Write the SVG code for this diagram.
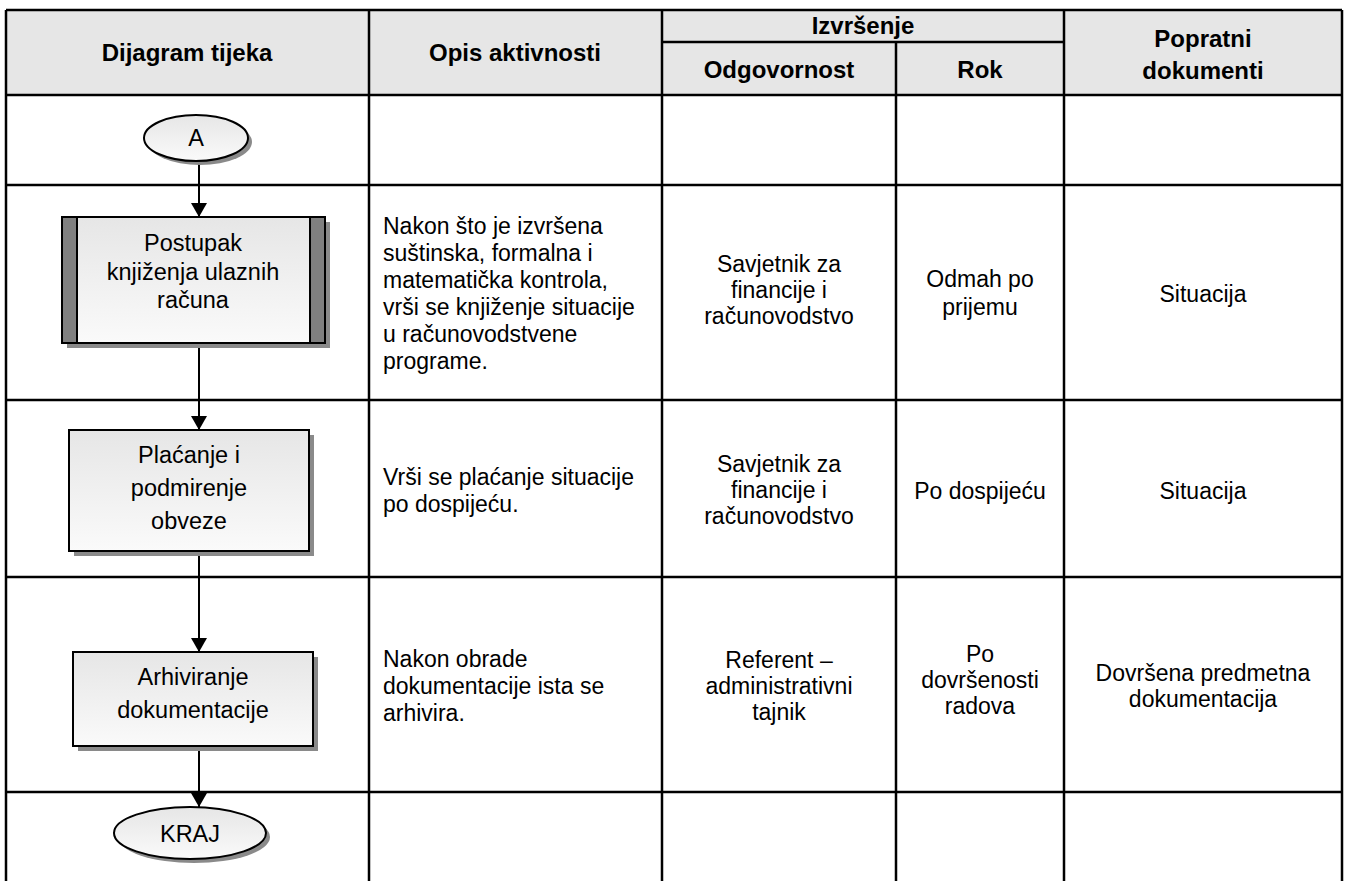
<svg xmlns="http://www.w3.org/2000/svg" width="1347" height="881" viewBox="0 0 1347 881">
<style>
.grid{stroke:#000;stroke-width:2.5;fill:none}
.hd{font-family:"Liberation Sans",Arial,sans-serif;font-weight:bold;font-size:24px;fill:#000;text-anchor:middle}
.tx{font-family:"Liberation Sans",Arial,sans-serif;font-size:23px;fill:#000}
.nt{font-family:"Liberation Sans",Arial,sans-serif;font-size:23.5px;fill:#000;text-anchor:middle}
.c{text-anchor:middle}
.nd{stroke:#000;stroke-width:2;fill:url(#g)}
.sh{fill:#8a8a8a}
.bar{fill:#808080;stroke:#000;stroke-width:2}
.cn{stroke:#000;stroke-width:2;fill:none;marker-end:url(#ah)}
</style>
<defs>
<linearGradient id="g" x1="0" y1="0" x2="0" y2="1">
<stop offset="0" stop-color="#e6e6e6"/>
<stop offset="1" stop-color="#fafafa"/>
</linearGradient>
<marker id="ah" viewBox="0 0 14 16" refX="14" refY="8" markerWidth="14" markerHeight="16" markerUnits="userSpaceOnUse" orient="auto">
<path d="M0,0 L14,8 L0,16 Z" fill="#000"/>
</marker>
</defs>
<rect width="1347" height="881" fill="#fff"/>
<g id="table">
<rect x="6" y="10" width="1336" height="85" fill="#e6e6e6"/>
<path class="grid" d="M6,10 H1342 M662,42 H1064 M6,95 H1342 M6,185 H1342 M6,400 H1342 M6,577 H1342 M6,792 H1342 M6,10 V881 M369,10 V881 M662,10 V881 M896,42 V881 M1064,10 V881 M1342,10 V881"/>
<text class="hd" x="187" y="61">Dijagram tijeka</text>
<text class="hd" x="515" y="61">Opis aktivnosti</text>
<text class="hd" x="863" y="34">Izvršenje</text>
<text class="hd" x="779" y="78">Odgovornost</text>
<text class="hd" x="980" y="78">Rok</text>
<text class="hd" x="1203" y="47">Popratni</text>
<text class="hd" x="1203" y="79">dokumenti</text>
</g>
<g id="row-text">
<text class="tx" x="383" y="234">Nakon što je izvršena</text>
<text class="tx" x="383" y="261">suštinska, formalna i</text>
<text class="tx" x="383" y="288">matematička kontrola,</text>
<text class="tx" x="383" y="315">vrši se knjiženje situacije</text>
<text class="tx" x="383" y="342">u računovodstvene</text>
<text class="tx" x="383" y="369">programe.</text>
<text class="tx c" x="779" y="272">Savjetnik za</text>
<text class="tx c" x="779" y="298">financije i</text>
<text class="tx c" x="779" y="324">računovodstvo</text>
<text class="tx c" x="980" y="287">Odmah po</text>
<text class="tx c" x="980" y="315">prijemu</text>
<text class="tx c" x="1203" y="302">Situacija</text>
<text class="tx" x="383" y="485">Vrši se plaćanje situacije</text>
<text class="tx" x="383" y="512">po dospijeću.</text>
<text class="tx c" x="779" y="472">Savjetnik za</text>
<text class="tx c" x="779" y="498">financije i</text>
<text class="tx c" x="779" y="524">računovodstvo</text>
<text class="tx c" x="980" y="499">Po dospijeću</text>
<text class="tx c" x="1203" y="499">Situacija</text>
<text class="tx" x="383" y="667">Nakon obrade</text>
<text class="tx" x="383" y="694">dokumentacije ista se</text>
<text class="tx" x="383" y="721">arhivira.</text>
<text class="tx c" x="779" y="668">Referent –</text>
<text class="tx c" x="779" y="694">administrativni</text>
<text class="tx c" x="779" y="720">tajnik</text>
<text class="tx c" x="980" y="662">Po</text>
<text class="tx c" x="980" y="688">dovršenosti</text>
<text class="tx c" x="980" y="714">radova</text>
<text class="tx c" x="1203" y="681">Dovršena predmetna</text>
<text class="tx c" x="1203" y="707">dokumentacija</text>
</g>
<g id="connectors">
<line class="cn" x1="199" y1="161" x2="199" y2="217"/>
<line class="cn" x1="199" y1="343" x2="199" y2="430"/>
<line class="cn" x1="199" y1="551" x2="199" y2="652"/>
<line class="cn" x1="199" y1="746" x2="199" y2="807"/>
</g>
<g id="node-A">
<ellipse class="sh" cx="200" cy="142" rx="52" ry="23"/>
<ellipse class="nd" cx="196" cy="138" rx="52" ry="23"/>
<text class="nt" x="196" y="146">A</text>
</g>
<g id="node-postupak">
<rect class="sh" x="67" y="222" width="263" height="126"/>
<rect class="bar" x="62" y="217" width="263" height="126"/>
<rect class="nd" x="77" y="217" width="233" height="126"/>
<text class="nt" x="193" y="251">Postupak</text>
<text class="nt" x="193" y="280">knjiženja ulaznih</text>
<text class="nt" x="193" y="308">računa</text>
</g>
<g id="node-placanje">
<rect class="sh" x="74" y="435" width="240" height="121"/>
<rect class="nd" x="69" y="430" width="240" height="121"/>
<text class="nt" x="189" y="463">Plaćanje i</text>
<text class="nt" x="189" y="496">podmirenje</text>
<text class="nt" x="189" y="529">obveze</text>
</g>
<g id="node-arhiviranje">
<rect class="sh" x="78" y="657" width="240" height="94"/>
<rect class="nd" x="73" y="652" width="240" height="94"/>
<text class="nt" x="193" y="685">Arhiviranje</text>
<text class="nt" x="193" y="718">dokumentacije</text>
</g>
<g id="node-kraj">
<ellipse class="sh" cx="194" cy="837" rx="76" ry="26"/>
<ellipse class="nd" cx="190" cy="833" rx="76" ry="26"/>
<text class="nt" x="190" y="842">KRAJ</text>
</g>
</svg>
